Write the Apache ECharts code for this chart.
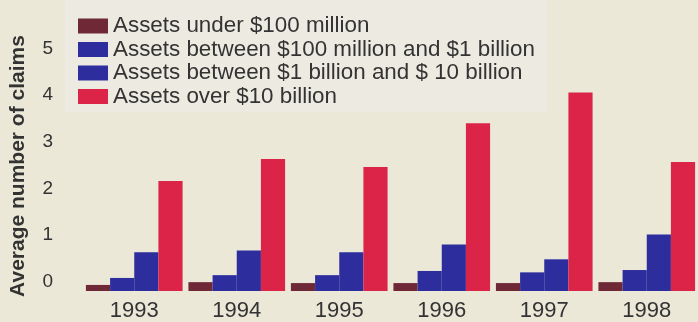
<!DOCTYPE html>
<html><head><meta charset="utf-8">
<script src="https://cdn.jsdelivr.net/npm/echarts@6/dist/echarts.min.js"></script>
<style>html,body{margin:0;padding:0;background:#ebe8d8}#c{width:698px;height:322px}</style>
</head><body><div id="c"></div>
<script>
const categories = ['1993', '1994', '1995', '1996', '1997', '1998'];
const seriesNames = [
  'Assets under $100 million',
  'Assets between $100 million and $1 billion',
  'Assets between $1 billion and $ 10 billion',
  'Assets over $10 billion'
];
const under100m     = [0.13, 0.19, 0.17, 0.17, 0.17, 0.19];
const between100m1b = [0.28, 0.34, 0.34, 0.43, 0.40, 0.45];
const between1b10b  = [0.83, 0.87, 0.83, 1.00, 0.68, 1.21];
const over10b       = [2.36, 2.83, 2.66, 3.60, 4.26, 2.77];
const yMin = 0, yMax = 5, yStep = 1;
const yTitle = 'Average number of claims';

const colors = ['#6e2836', '#2d2d9e', '#2d2d9e', '#dc2448'];
const values = [under100m, between100m1b, between1b10b, over10b];
const FONT = '"Liberation Sans", Arial, Helvetica, sans-serif';

const chart = echarts.init(document.getElementById('c'), null, {renderer: 'canvas'});
chart.setOption({
  backgroundColor: '#ebe8d8',
  animation: false,
  textStyle: {fontFamily: FONT},
  grid: {left: 83, width: 617, top: 58, bottom: 29, containLabel: false},
  legend: {
    orient: 'vertical',
    left: 65, top: 0,
    padding: [15, 12, 4, 13],
    backgroundColor: '#edebe1',
    itemWidth: 30, itemHeight: 15, itemGap: 1.5,
    icon: 'rect',
    selectedMode: false,
    textStyle: {fontSize: 22.4, color: '#333333', fontFamily: FONT},
    data: seriesNames
  },
  xAxis: {
    type: 'category',
    data: categories,
    axisLine: {show: false},
    axisTick: {show: false},
    axisLabel: {fontSize: 22, color: '#333333', margin: 9, fontFamily: FONT}
  },
  yAxis: {
    type: 'value',
    min: yMin, max: yMax, interval: yStep,
    splitLine: {show: false},
    axisLine: {show: false},
    axisTick: {show: false},
    axisLabel: {fontSize: 19, color: '#333333', margin: 30, fontFamily: FONT,
                verticalAlign: 'bottom'}
  },
  graphic: [{
    type: 'text',
    x: 18, y: 166,
    rotation: Math.PI / 2,
    style: {
      text: yTitle,
      font: 'bold 21px ' + FONT,
      fill: '#333333',
      textAlign: 'center',
      textVerticalAlign: 'middle'
    }
  }],
  series: seriesNames.map((name, i) => ({
    name: name,
    type: 'bar',
    data: values[i],
    barGap: '0%',
    barCategoryGap: '5.7%',
    itemStyle: {color: colors[i]}
  }))
});
</script>
</body></html>
